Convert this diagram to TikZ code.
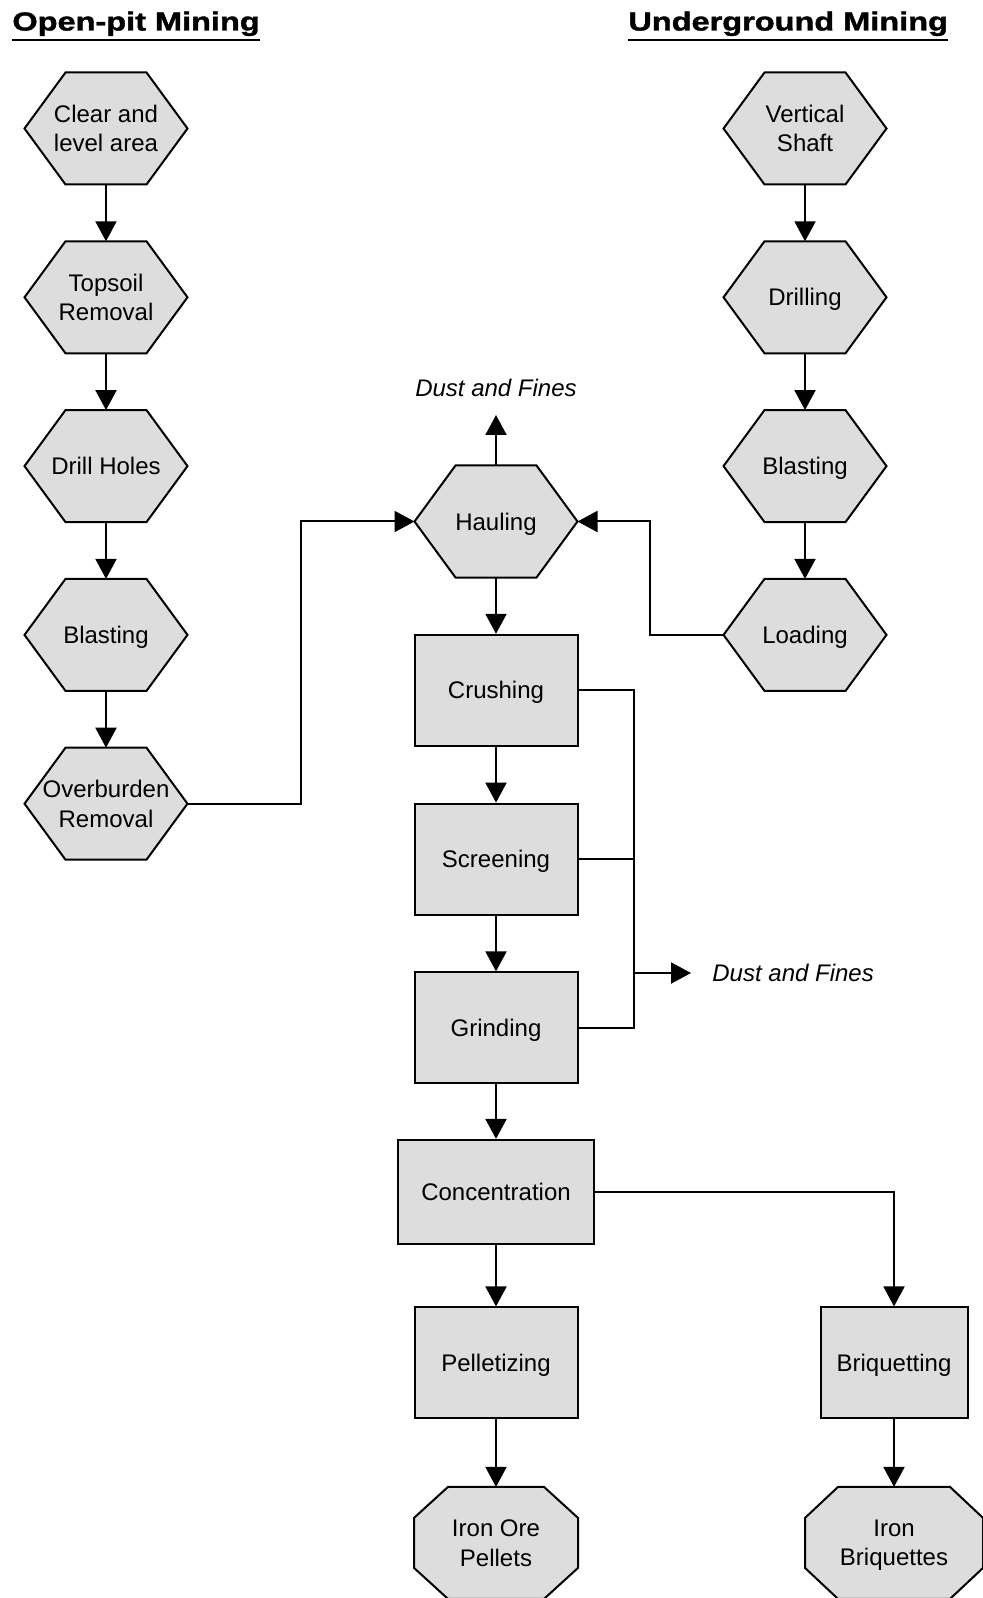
\documentclass[tikz,border=0pt]{standalone}
\usepackage{fontspec}
\setmainfont{Liberation Sans}
\newfontfamily\headfont{Liberation Sans Bold}[FakeStretch=1.25, FakeBold=1.5]
\usetikzlibrary{arrows.meta,positioning,backgrounds}
\definecolor{boxgray}{RGB}{221,221,221}

\begin{document}
\begin{tikzpicture}[x=0.5pt,y=-0.5pt,node distance=84.4pt,
        every node/.style={inner sep=0pt, text depth=0pt, align=center, font=\fontsize{12}{14.75}\selectfont},
        hexbox/.style={outer sep=0pt, minimum width=81.5pt, minimum height=56pt},
        octbox/.style={outer sep=0pt, minimum width=82pt, minimum height=56pt},
        procbox/.style={draw, fill=boxgray, line width=1pt, minimum width=81.5pt, minimum height=55.5pt},
        outline/.style={draw, fill=boxgray, line width=1pt},
        flow/.style={line width=1pt, -{Triangle[length=10pt,width=10.5pt]}},
        titletext/.style={anchor=base west, font=\headfont\fontsize{13}{16}\selectfont},
        dusttext/.style={font=\fontsize{12}{14.75}\selectfont\itshape}]
        \useasboundingbox (0,0) rectangle (982,1598);

        \node[titletext] (openpit) at (12,30.5) {Open-pit Mining};
        \node[titletext] (underground) at (628,30.5) {Underground Mining};
        \draw[line width=1.15pt] ([yshift=-4.75pt]openpit.base west) -- ([yshift=-4.75pt]openpit.base east);
        \draw[line width=1.15pt] ([yshift=-4.75pt]underground.base west) -- ([yshift=-4.75pt]underground.base east);

        % open-pit column
        \node[hexbox] (clear) at (106,128.5) {Clear and\\level area};
        \node[hexbox] (topsoil) [below of = clear] {Topsoil\\Removal};
        \node[hexbox] (holes) [below of = topsoil] {Drill Holes};
        \node[hexbox] (blastpit) [below of = holes] {Blasting};
        \node[hexbox] (overburden) [below of = blastpit] {Overburden\\Removal};

        % underground column
        \node[hexbox] (shaft) at (805,128.5) {Vertical\\Shaft};
        \node[hexbox] (drilling) [below of = shaft] {Drilling};
        \node[hexbox] (blastmine) [below of = drilling] {Blasting};
        \node[hexbox] (loading) [below of = blastmine] {Loading};

        % processing
        \node[hexbox] (hauling) at (496,521.5) {Hauling};
        \node[procbox] (crushing) [below of = hauling] {Crushing};
        \node[procbox] (screening) [below of = crushing] {Screening};
        \node[procbox] (grinding) [below of = screening] {Grinding};
        \node[procbox, minimum width=98pt, minimum height=52pt] (concentration) [below of = grinding, node distance=82pt] {Concentration};
        \node[procbox] (pelletizing) [below of = concentration, node distance=85.5pt] {Pelletizing};
        \node[procbox, minimum width=73.5pt] (briquetting) [right of = pelletizing, node distance=199pt] {Briquetting};
        \node[octbox] (pellets) [below of = pelletizing, node distance=90pt] {Iron Ore\\Pellets};
        \node[octbox, minimum width=89pt] (briquettes) [below of = briquetting, node distance=90pt] {Iron\\Briquettes};

        \coordinate (dustup) at (496,415);
        \node[dusttext, above=9pt of dustup] (dusttop) {Dust and Fines};
        \coordinate (dustbus) at (633.5,973);
        \coordinate (dustout) at (691,973);
        \node[dusttext, right=10.5pt of dustout] (dustside) {Dust and Fines};
        \coordinate (pitbus) at (300.5,521.5);
        \coordinate (minebus) at (650,521.5);

        \begin{scope}[on background layer]
            \foreach \h in {clear,topsoil,holes,blastpit,overburden,shaft,drilling,blastmine,loading,hauling}
                \path[outline] (\h.west) -- ([xshift=20.5pt]\h.north west) -- ([xshift=-20.5pt]\h.north east)
                    -- (\h.east) -- ([xshift=-20.5pt]\h.south east) -- ([xshift=20.5pt]\h.south west) -- cycle;
            \foreach \o/\c in {pellets/17pt,briquettes/16.5pt}
                \path[outline] ([xshift=\c]\o.north west) -- ([xshift=-\c]\o.north east)
                    -- ([yshift=-15.5pt]\o.north east) -- ([yshift=15.5pt]\o.south east)
                    -- ([xshift=-\c]\o.south east) -- ([xshift=\c]\o.south west)
                    -- ([yshift=15.5pt]\o.south west) -- ([yshift=-15.5pt]\o.north west) -- cycle;
        \end{scope}

        \draw[flow] (clear) -- (topsoil);
        \draw[flow] (topsoil) -- (holes);
        \draw[flow] (holes) -- (blastpit);
        \draw[flow] (blastpit) -- (overburden);
        \draw[flow] (shaft) -- (drilling);
        \draw[flow] (drilling) -- (blastmine);
        \draw[flow] (blastmine) -- (loading);
        \draw[flow] (overburden.east) -| (pitbus) -- (hauling.west);
        \draw[flow] (loading.west) -| (minebus) -- (hauling.east);
        \draw[flow] (hauling.north) -- (dustup);
        \draw[flow] (hauling) -- (crushing);
        \draw[flow] (crushing) -- (screening);
        \draw[flow] (screening) -- (grinding);
        \draw[flow] (grinding) -- (concentration);
        \draw[line width=1pt] (crushing.east) -| (dustbus) |- (grinding.east);
        \draw[line width=1pt] (screening.east) -- (screening.east -| dustbus);
        \draw[flow] (dustbus) -- (dustout);
        \draw[flow] (concentration) -- (pelletizing);
        \draw[flow] (concentration.east) -| (briquetting.north);
        \draw[flow] (pelletizing) -- (pellets);
        \draw[flow] (briquetting) -- (briquettes);
    \end{tikzpicture}
\end{document}
